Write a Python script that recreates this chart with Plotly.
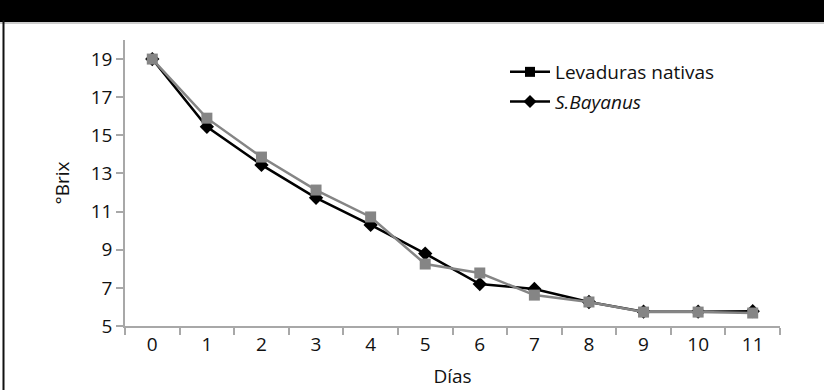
import plotly.graph_objects as go

dias = ["0", "1", "2", "3", "4", "5", "6", "7", "8", "9", "10", "11"]
levaduras_nativas = [19.0, 15.9, 13.86, 12.13, 10.72, 8.25, 7.78, 6.62, 6.26, 5.73, 5.73, 5.68]
s_bayanus = [19.0, 15.45, 13.45, 11.72, 10.3, 8.8, 7.2, 6.94, 6.26, 5.75, 5.75, 5.78]
y_ticks = [5, 7, 9, 11, 13, 15, 17, 19]

name_nat = "Levaduras nativas"
name_bay = "<i>S.Bayanus</i>"

FONT = "Open Sans"
TXT = "#111111"
AX = "#a8a8a8"

fig = go.Figure()

# data traces (black first so the grey series sits on top)
fig.add_trace(go.Scatter(
    x=dias, y=s_bayanus, mode="lines+markers", name=name_bay, showlegend=False,
    line=dict(color="#000000", width=2.5),
    marker=dict(symbol="diamond", size=11, color="#000000"),
))
fig.add_trace(go.Scatter(
    x=dias, y=levaduras_nativas, mode="lines+markers", name=name_nat, showlegend=False,
    line=dict(color="#858585", width=2.5),
    marker=dict(symbol="square", size=11, color="#858585"),
))

# legend entries (the original legend draws both keys in black)
fig.add_trace(go.Scatter(
    x=[None], y=[None], mode="lines+markers", name=name_nat, legendgroup="a",
    line=dict(color="#000000", width=2.5),
    marker=dict(symbol="square", size=10, color="#000000"),
))
fig.add_trace(go.Scatter(
    x=[None], y=[None], mode="lines+markers", name=name_bay, legendgroup="b",
    line=dict(color="#000000", width=2.5),
    marker=dict(symbol="diamond", size=10, color="#000000"),
))

W, H = 824, 390
L, R, T, B = 125, 44, 40, 64
pw, ph = W - L - R, H - T - B

def px_x(p):
    return (p - L) / pw

def px_y(p):
    return 1 - (p - T) / ph

fig.update_layout(
    width=W, height=H,
    margin=dict(l=L, r=R, t=T, b=B, autoexpand=False),
    paper_bgcolor="white", plot_bgcolor="white",
    font=dict(family=FONT, size=19, color=TXT),
    showlegend=True,
    legend=dict(
        x=px_x(505), y=px_y(53), xanchor="left", yanchor="top",
        font=dict(family=FONT, size=19, color=TXT),
        bgcolor="rgba(0,0,0,0)", traceorder="grouped", tracegroupgap=2,
        itemwidth=40,
    ),
    xaxis=dict(
        type="category", range=[-0.5, 11.5], tickson="boundaries",
        automargin=False,
        showline=True, linecolor=AX, linewidth=1.5,
        ticks="outside", ticklen=7, tickcolor=AX, tickwidth=1.5,
        showgrid=False, zeroline=False,
        tickfont=dict(family=FONT, size=19, color=TXT),
        title=dict(text="Días", font=dict(family=FONT, size=19, color=TXT), standoff=14),
    ),
    yaxis=dict(
        range=[5, 20], tickvals=y_ticks,
        automargin=False,
        showline=True, linecolor=AX, linewidth=1.5,
        ticks="outside", ticklen=7, tickcolor=AX, tickwidth=1.5,
        showgrid=False, zeroline=False,
        tickfont=dict(family=FONT, size=19, color=TXT),
        title=dict(text="°Brix", font=dict(family=FONT, size=19, color=TXT), standoff=16),
    ),
    shapes=[
        dict(type="rect", xref="paper", yref="paper",
             x0=px_x(-5), x1=px_x(W + 5), y0=px_y(22), y1=px_y(-5),
             fillcolor="#000000", line=dict(width=0), layer="above"),
        dict(type="line", xref="paper", yref="paper",
             x0=px_x(0), x1=px_x(W), y0=px_y(23), y1=px_y(23),
             line=dict(color="#9a9a9a", width=1)),
        dict(type="line", xref="paper", yref="paper",
             x0=px_x(3.5), x1=px_x(3.5), y0=px_y(20), y1=px_y(H + 5),
             line=dict(color="#111111", width=2)),
    ],
)

fig.write_html(
    "out.html",
    config={"displayModeBar": False},
    post_script="document.body.style.margin='0';document.body.style.padding='0';document.body.style.overflow='hidden';",
)
